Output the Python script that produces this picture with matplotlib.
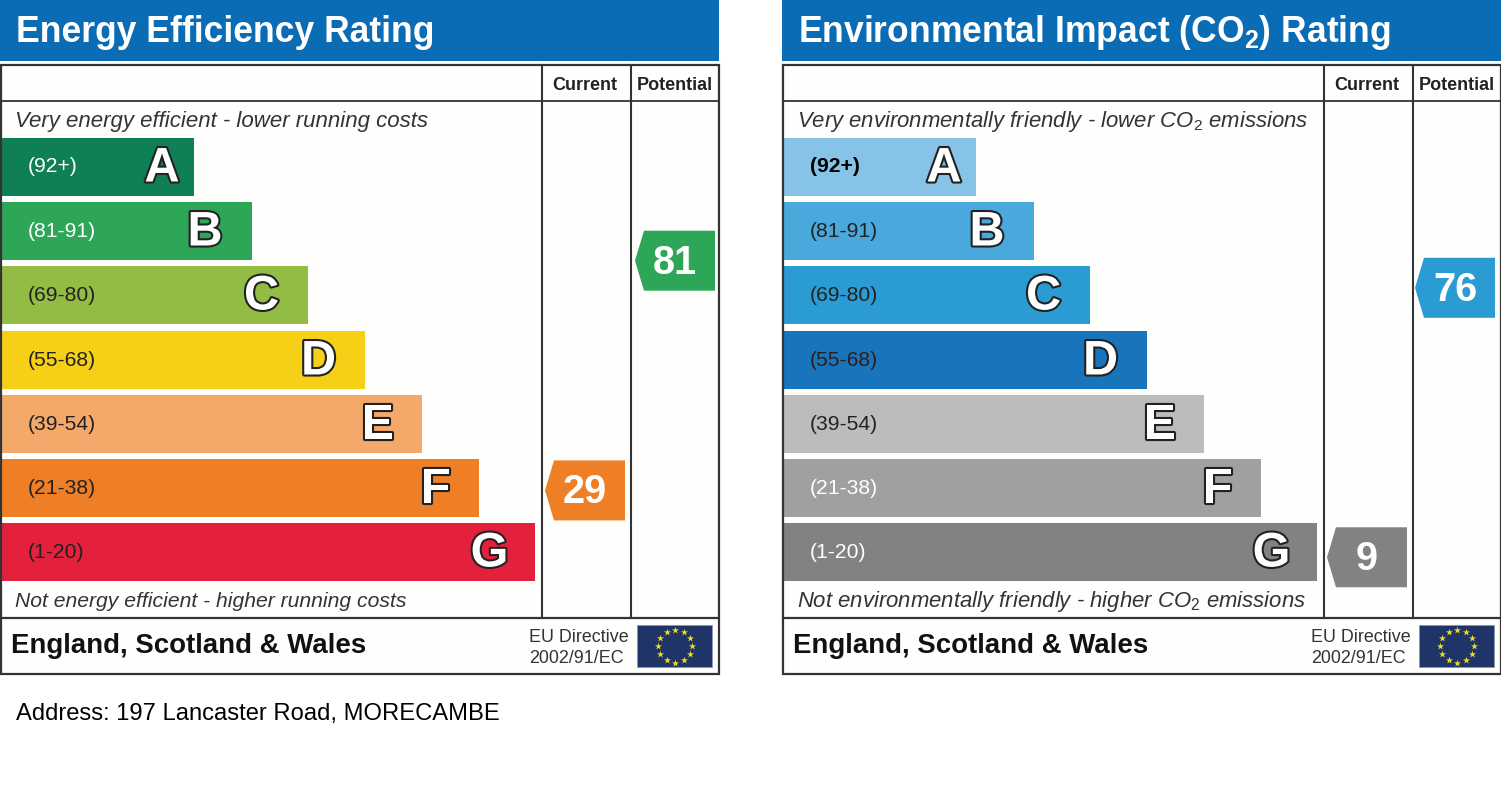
import numpy as np
from matplotlib import pyplot as plt
from matplotlib import patheffects
from matplotlib.patches import Polygon, Rectangle

plt.rcParams['font.family'] = ['Liberation Sans', 'DejaVu Sans']
plt.rcParams['mathtext.fontset'] = 'custom'
plt.rcParams['mathtext.rm'] = 'Liberation Sans'
plt.rcParams['mathtext.it'] = 'Liberation Sans:italic'
plt.rcParams['mathtext.bf'] = 'Liberation Sans:bold'

letters = ['A', 'B', 'C', 'D', 'E', 'F', 'G']
ranges = ['(92+)', '(81-91)', '(69-80)', '(55-68)', '(39-54)', '(21-38)', '(1-20)']
range_low = [92, 81, 69, 55, 39, 21, 1]
range_high = [100, 91, 80, 68, 54, 38, 20]
bar_lengths = [192, 250, 306, 363, 420, 477, 533]

energy_colors = ['#0f8056', '#2ea658', '#92bc43', '#f6cf17', '#f4a96b', '#ee7f27', '#e4213d']
energy_text = ['white', 'white', '#222222', '#222222', '#222222', '#222222', '#222222']
co2_colors = ['#86c3e6', '#49a8dc', '#2b9bd4', '#1875bc', '#bcbcba', '#a0a0a0', '#828282']
co2_text = ['black', '#222222', '#222222', '#301c1c', '#222222', 'white', 'white']

energy_current, energy_potential = 29, 81
co2_current, co2_potential = 9, 76
address = 'Address: 197 Lancaster Road, MORECAMBE'

BLUE = '#0a6cb4'
LINE = '#333333'
TOPS = [138, 202, 266, 331, 395, 459, 523]
BAR_H = 58
# letter centre measured back from the end of its bar
LETTER_OFFSET = [32, 47, 46.5, 46.5, 44.5, 43, 45.5]


def score_to_y(score):
    # the arrow sits at the height of the score inside its band
    for i in range(len(letters)):
        if range_low[i] <= score <= range_high[i]:
            frac = (range_high[i] - score) / (range_high[i] - range_low[i])
            return TOPS[i] + frac * BAR_H + 0.7
    return TOPS[-1]


def draw_arrow(ax, x, score, color):
    y = score_to_y(score)
    pts = [(x, y), (x + 9, y - 30), (x + 80, y - 30), (x + 80, y + 30), (x + 9, y + 30)]
    ax.add_patch(Polygon(pts, closed=True, facecolor=color, edgecolor='none', zorder=4))
    ax.text(x + 40, y + 2, str(score), color='white', fontsize=28.5, fontweight='bold',
            ha='center', va='center', zorder=5)


def draw_flag(ax, x0):
    ax.add_patch(Rectangle((x0 + 637, 625), 75, 42, facecolor='#1f3568', edgecolor='#8a94b0',
                           linewidth=0.5, zorder=3))
    angles = np.arange(12) * np.pi / 6
    ax.scatter(x0 + 675 + 17 * np.sin(angles), 646 - 16.5 * np.cos(angles), marker='*', s=28,
               color='#f6dc1e', linewidths=0, zorder=4)


def draw_panel(ax, x0, title, top_note, bottom_note, note_sizes, colors, text_colors, current, potential,
               arrow_colors, potential_x, title_size):
    ax.add_patch(Rectangle((x0, 65), 719, 609, facecolor='#fefefc', edgecolor='none', zorder=0))
    ax.add_patch(Rectangle((x0, 0), 719, 61, facecolor=BLUE, edgecolor='none', zorder=1))
    ax.text(x0 + 15.5, 32, title, color='white', fontsize=title_size, fontweight='bold', va='center',
            ha='left', zorder=2)

    # frame and column lines
    ax.add_patch(Rectangle((x0 + 1, 65.5), 717.5, 608, facecolor='none', edgecolor=LINE,
                           linewidth=1.6, zorder=3))
    ax.plot([x0 + 1, x0 + 718], [101.5, 101.5], color=LINE, lw=1.3, zorder=3)
    ax.plot([x0 + 1, x0 + 718], [617.5, 617.5], color=LINE, lw=1.6, zorder=3)
    ax.plot([x0 + 542, x0 + 542], [65, 617], color=LINE, lw=1.5, zorder=3)
    ax.plot([x0 + 630.5, x0 + 630.5], [65, 617], color=LINE, lw=1.5, zorder=3)

    ax.text(x0 + 585, 85, 'Current', fontsize=13, fontweight='bold', color='#222222',
            ha='center', va='center', zorder=4)
    ax.text(x0 + 674.5, 85, 'Potential', fontsize=13, fontweight='bold', color='#222222',
            ha='center', va='center', zorder=4)
    ax.text(x0 + 15, 121, top_note, fontsize=note_sizes[0], style='italic', color='#333333', va='center', zorder=4)
    ax.text(x0 + 15, 601, bottom_note, fontsize=note_sizes[1], style='italic', color='#333333', va='center', zorder=4)

    ax.barh(TOPS, bar_lengths, height=BAR_H, left=x0 + 2, align='edge', color=colors, zorder=2)
    for i, letter in enumerate(letters):
        ax.text(x0 + 28, TOPS[i] + 29, ranges[i], color=text_colors[i], fontsize=15.2,
                fontweight='bold' if text_colors[i] == 'black' else 'normal', va='center', zorder=4)
        ax.text(x0 + 2 + bar_lengths[i] - LETTER_OFFSET[i], TOPS[i] + 31, letter, color='white', fontsize=35,
                fontweight='bold', ha='center', va='center', zorder=4,
                path_effects=[patheffects.withStroke(linewidth=3, foreground='#222222')])

    draw_arrow(ax, x0 + 545, current, arrow_colors[0])
    draw_arrow(ax, x0 + potential_x, potential, arrow_colors[1])

    ax.text(x0 + 11, 646, 'England, Scotland & Wales', fontsize=19.9, fontweight='bold',
            color='#111111', va='center', zorder=4)
    ax.text(x0 + 529, 637, 'EU Directive', fontsize=12.9, color='#333333', va='center', zorder=4)
    ax.text(x0 + 529, 658, '2002/91/EC', fontsize=12.9, color='#333333', va='center', zorder=4)
    draw_flag(ax, x0)


fig = plt.figure(figsize=(15.01, 8.05), dpi=100)
ax = fig.add_axes([0, 0, 1, 1])
ax.set_xlim(0, 1501)
ax.set_ylim(805, 0)
ax.axis('off')

draw_panel(ax, 0, 'Energy Efficiency Rating',
           'Very energy efficient - lower running costs',
           'Not energy efficient - higher running costs', (16, 15.2),
           energy_colors, energy_text, energy_current, energy_potential,
           (energy_colors[5], energy_colors[1]), 635, 25.6)
draw_panel(ax, 782, r'Environmental Impact (CO$_{\mathbf{2}}$) Rating',
           r'Very environmentally friendly - lower CO$_{\mathit{2}}$ emissions',
           r'Not environmentally friendly - higher CO$_{\mathit{2}}$ emissions', (15.9, 15.95),
           co2_colors, co2_text, co2_current, co2_potential,
           (co2_colors[6], co2_colors[2]), 633, 25.6)

ax.text(16, 713.5, address, fontsize=17.15, color='black', va='center')

fig.savefig('out.png', dpi=100)
